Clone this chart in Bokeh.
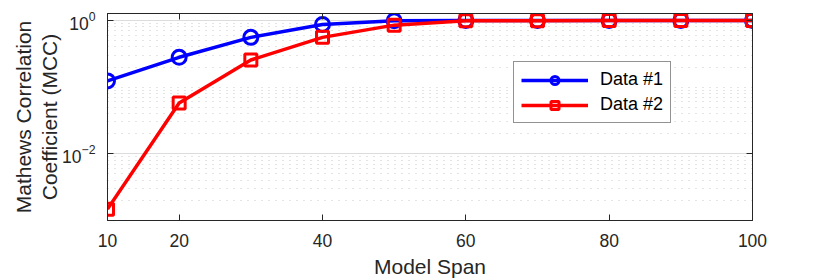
from bokeh.plotting import figure
from bokeh.models import FixedTicker, LinearAxis, LogAxis, Range1d, CustomJSTickFormatter
from bokeh.embed import file_html
from bokeh.resources import INLINE

# ---- data ----
model_span = [10, 20, 30, 40, 50, 60, 70, 80, 90, 100]
data1 = [0.124, 0.28, 0.557, 0.87, 0.99, 0.998, 0.998, 0.999, 0.999, 0.999]
data2 = [0.00148, 0.0577, 0.255, 0.557, 0.85, 0.985, 0.99, 0.995, 0.997, 0.998]
x_ticks = [10, 20, 40, 60, 80, 100]
y_ticks = [1e-2, 1.0]
y_minor = [m * 10.0 ** k for k in (-3, -2, -1) for m in range(1, 10)
           if not (m == 1 and k in (-3, -2))]

FONT = "Liberation Sans"
TXT = "#262626"
BLUE = "#0000FF"
RED = "#FF0000"

p = figure(frame_width=645, frame_height=207,
           x_range=Range1d(10, 100), y_range=Range1d(1e-3, 1.27),
           y_axis_type="log", output_backend="svg", toolbar_location=None,
           min_border_left=107, min_border_right=70,
           min_border_top=13, min_border_bottom=58)
p.background_fill_color = "white"
p.border_fill_color = "white"
p.outline_line_color = TXT

xt = FixedTicker(ticks=x_ticks)
yt = FixedTicker(ticks=y_ticks, minor_ticks=y_minor)

def style_axis(ax, show_labels):
    ax.axis_line_color = TXT
    ax.axis_line_width = 1
    ax.major_tick_line_color = TXT
    ax.major_tick_in = 6
    ax.major_tick_out = 0
    ax.minor_tick_line_color = None
    ax.major_label_text_font = FONT
    ax.major_label_text_color = TXT
    if show_labels:
        ax.major_label_text_font_size = "17.5px"
        ax.major_label_standoff = 10
    else:
        ax.formatter = CustomJSTickFormatter(code="return ''")
        ax.major_label_text_font_size = "1px"
        ax.major_label_standoff = 0

xa = p.xaxis[0]
xa.ticker = xt
style_axis(xa, True)
xa.major_label_standoff = 13
xa.axis_label = "Model Span"
xa.axis_label_text_font = FONT
xa.axis_label_text_font_size = "21px"
xa.axis_label_text_font_style = "normal"
xa.axis_label_text_color = TXT
xa.axis_label_standoff = 5

ya = p.yaxis[0]
ya.ticker = yt
style_axis(ya, True)
ya.major_label_standoff = 8
ya.axis_label = "Mathews Correlation\nCoefficient (MCC)"
ya.axis_label_text_font = FONT
ya.axis_label_text_font_size = "21px"
ya.axis_label_text_font_style = "normal"
ya.axis_label_text_color = TXT
ya.axis_label_text_line_height = 1.12
ya.axis_label_standoff = -2

top = LinearAxis(ticker=xt)
style_axis(top, False)
p.add_layout(top, "above")
right = LogAxis(ticker=yt)
style_axis(right, False)
p.add_layout(right, "right")

p.xgrid.grid_line_color = None
p.ygrid.ticker = yt
p.ygrid.grid_line_color = "#dcdcdc"
p.ygrid.grid_line_width = 1
p.ygrid.minor_grid_line_color = "#c8c8c8"
p.ygrid.minor_grid_line_dash = "1 6"
p.ygrid.minor_grid_line_width = 1

p.line(model_span, data1, line_color=BLUE, line_width=3.5, legend_label="Data #1")
p.scatter(model_span, data1, marker="circle", size=14, fill_color=None,
          line_color=BLUE, line_width=3, legend_label="Data #1")
p.line(model_span, data2, line_color=RED, line_width=3.5, legend_label="Data #2")
p.scatter(model_span, data2, marker="square", size=12, fill_color=None,
          line_color=RED, line_width=3, legend_label="Data #2")

lg = p.legend[0]
lg.location = (406, 97)
lg.border_line_color = TXT
lg.border_line_width = 1
lg.background_fill_color = "white"
lg.background_fill_alpha = 1
lg.label_text_font = FONT
lg.label_text_font_size = "18px"
lg.label_text_color = "black"
lg.glyph_width = 67
lg.glyph_height = 20
lg.label_height = 20
lg.label_standoff = 12
lg.padding = 7
lg.spacing = 4
lg.margin = 0

open("out.html", "w").write(file_html(p, INLINE))
